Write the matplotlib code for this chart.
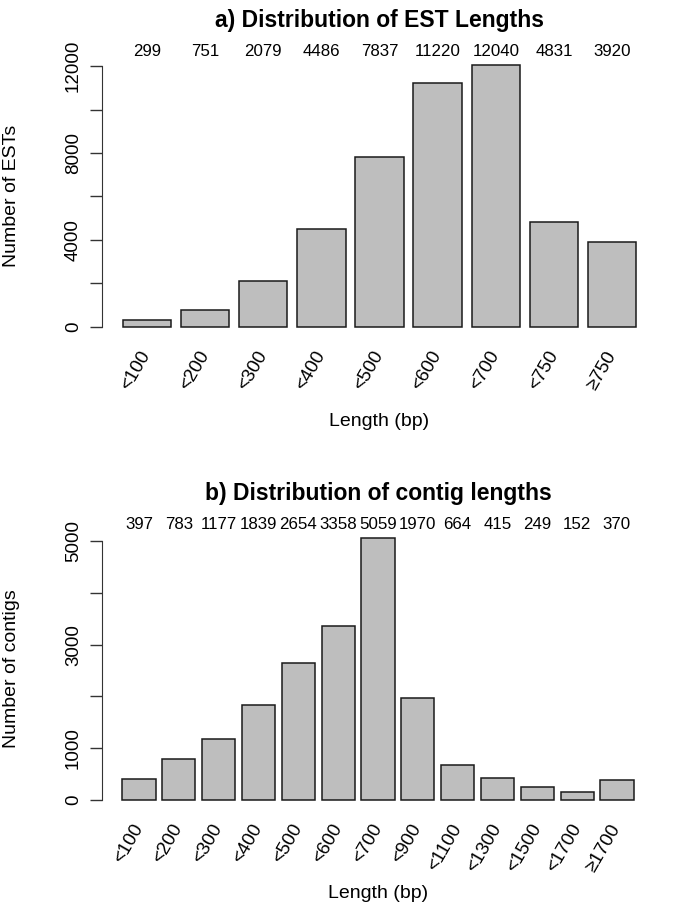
import numpy as np
import matplotlib
matplotlib.use('Agg')
import matplotlib.pyplot as plt

plt.rcParams['font.family'] = ['Liberation Sans', 'DejaVu Sans']

est_labels = ['<100', '<200', '<300', '<400', '<500', '<600', '<700', '<750', '≥750']
est_counts = [299, 751, 2079, 4486, 7837, 11220, 12040, 4831, 3920]

contig_labels = ['<100', '<200', '<300', '<400', '<500', '<600', '<700', '<900',
                 '<1100', '<1300', '<1500', '<1700', '≥1700']
contig_counts = [397, 783, 1177, 1839, 2654, 3358, 5059, 1970, 664, 415, 249, 152, 370]


def rbarplot(ax, labels, counts, title, ylab, yticks, ylabels):
    n = len(counts)
    centers = 0.7 + 1.2 * np.arange(n)
    ax.bar(centers, counts, width=1.0, color='#bebebe', edgecolor='#1a1a1a', linewidth=1.1)
    lo, hi = 0.2, 1.2 * n
    pad = 0.04 * (hi - lo)
    ax.set_xlim(lo - pad, hi + pad)
    ymax = max(counts)
    ax.set_ylim(-0.04 * ymax, 1.04 * ymax)

    for sp in ['top', 'right', 'bottom']:
        ax.spines[sp].set_visible(False)
    ax.spines['left'].set_bounds(yticks[0], yticks[-1])
    ax.spines['left'].set_color('#333333')
    ax.set_yticks(yticks)
    ax.set_yticklabels(ylabels, rotation=90, va='center', fontsize=13.5)
    ax.tick_params(axis='y', length=8.5, width=1, color='#333333', pad=6)

    ax.set_xticks(centers)
    ax.set_xticklabels(labels, rotation=60, ha='right', va='center',
                       rotation_mode='anchor', fontsize=13.5)
    ax.tick_params(axis='x', length=0, pad=11)

    for c, v in zip(centers, counts):
        ax.text(c, 1.055 * ymax, str(v), ha='center', va='center', fontsize=12.2)

    ax.set_title(title, fontsize=16.5, fontweight='bold', pad=20)
    ax.set_ylabel(ylab, fontsize=14)
    ax.yaxis.set_label_coords(-0.148, 0.5)
    ax.set_xlabel('Length (bp)', fontsize=14)


fig = plt.figure(figsize=(6.85, 9.10), dpi=100)
ax1 = fig.add_axes([102 / 685, 1 - 337 / 910, 555 / 685, 282 / 910])
ax2 = fig.add_axes([102 / 685, 1 - 810 / 910, 552 / 685, 282 / 910])

rbarplot(ax1, est_labels, est_counts, 'a) Distribution of EST Lengths', 'Number of ESTs',
         [0, 2000, 4000, 6000, 8000, 10000, 12000],
         ['0', '', '4000', '', '8000', '', '12000'])
rbarplot(ax2, contig_labels, contig_counts, 'b) Distribution of contig lengths', 'Number of contigs',
         [0, 1000, 2000, 3000, 4000, 5000],
         ['0', '1000', '', '3000', '', '5000'])

ax1.xaxis.set_label_coords(0.5, -0.27)
ax2.xaxis.set_label_coords(0.5, -0.265)

fig.savefig('out.png', dpi=100)
